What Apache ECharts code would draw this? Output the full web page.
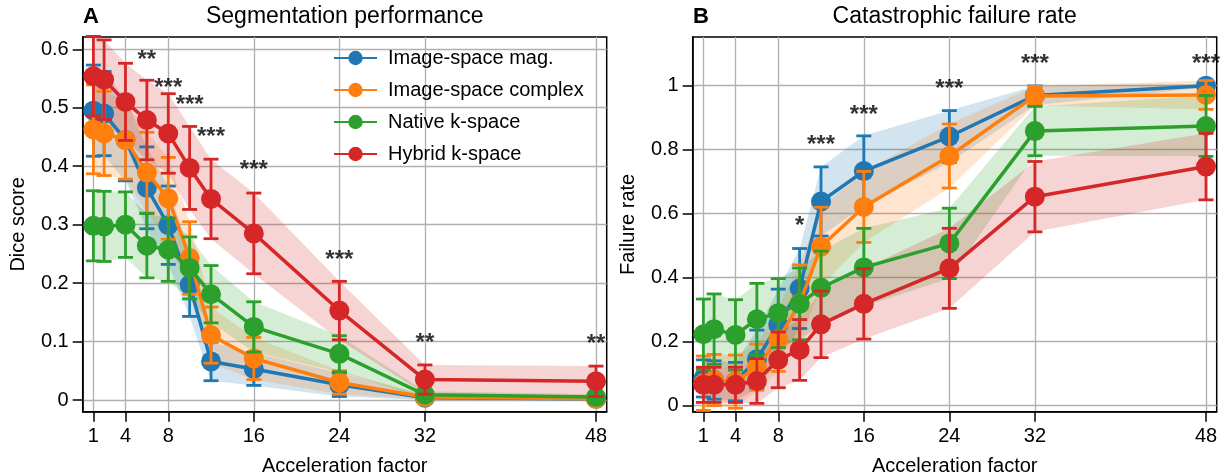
<!DOCTYPE html>
<html>
<head>
<meta charset="utf-8">
<title>Segmentation performance / Catastrophic failure rate</title>
<script src="https://cdn.jsdelivr.net/npm/echarts@6/dist/echarts.min.js"></script>
<style>
  html, body { margin: 0; padding: 0; background: #fff; }
  #chart { width: 1220px; height: 475px; }
</style>
</head>
<body>
<div id="chart"></div>
<script>
// x positions and tick marks
const accel = [1, 2, 4, 6, 8, 10, 12, 16, 24, 32, 48];
const xTicks = [1, 4, 8, 16, 24, 32, 48];
const diceTicks = [0, 0.1, 0.2, 0.3, 0.4, 0.5, 0.6];
const failTicks = [0, 0.2, 0.4, 0.6, 0.8, 1];

const methods = ["Image-space mag.", "Image-space complex", "Native k-space", "Hybrid k-space"];
const colors = ["#1f77b4", "#ff7f0e", "#2ca02c", "#d62728"];
const bandColors = ["rgba(31,119,180,0.2)", "rgba(255,127,14,0.2)", "rgba(44,160,44,0.2)", "rgba(214,39,40,0.2)"];

// A: dice score (mean, +/- error)
const diceMag = [0.495, 0.490, 0.445, 0.363, 0.299, 0.197, 0.066, 0.053, 0.026, 0.004, 0.002];
const diceMagErr = [0.078, 0.072, 0.07, 0.07, 0.067, 0.054, 0.033, 0.028, 0.02, 0.004, 0.003];
const diceCpx = [0.463, 0.456, 0.445, 0.389, 0.345, 0.243, 0.111, 0.071, 0.030, 0.005, 0.002];
const diceCpxErr = [0.076, 0.072, 0.067, 0.069, 0.07, 0.062, 0.048, 0.036, 0.02, 0.004, 0.003];
const diceNat = [0.298, 0.297, 0.300, 0.264, 0.257, 0.226, 0.181, 0.125, 0.079, 0.009, 0.005];
const diceNatErr = [0.06, 0.06, 0.056, 0.055, 0.054, 0.053, 0.049, 0.043, 0.031, 0.006, 0.005];
const diceHyb = [0.554, 0.548, 0.510, 0.479, 0.456, 0.397, 0.344, 0.285, 0.153, 0.035, 0.032];
const diceHybErr = [0.068, 0.068, 0.066, 0.068, 0.068, 0.071, 0.068, 0.069, 0.05, 0.025, 0.026];

// B: failure rate (mean, +/- error)
const failMag = [0.085, 0.08, 0.075, 0.145, 0.253, 0.366, 0.638, 0.733, 0.841, 0.969, 1.0];
const failMagErr = [0.058, 0.06, 0.06, 0.091, 0.111, 0.125, 0.108, 0.11, 0.081, 0.03, 0.006];
const failCpx = [0.07, 0.08, 0.075, 0.12, 0.207, 0.32, 0.497, 0.621, 0.780, 0.968, 0.971];
const failCpxErr = [0.085, 0.08, 0.083, 0.072, 0.1, 0.12, 0.123, 0.111, 0.1, 0.03, 0.045];
const failNat = [0.223, 0.239, 0.221, 0.270, 0.289, 0.318, 0.368, 0.432, 0.507, 0.858, 0.874];
const failNatErr = [0.11, 0.11, 0.11, 0.112, 0.108, 0.112, 0.115, 0.122, 0.11, 0.077, 0.095];
const failHyb = [0.065, 0.065, 0.065, 0.077, 0.143, 0.174, 0.254, 0.318, 0.429, 0.653, 0.747];
const failHybErr = [0.055, 0.055, 0.055, 0.07, 0.087, 0.095, 0.104, 0.11, 0.125, 0.11, 0.104];

// significance markers
const starsAX = [6, 8, 10, 12, 16, 24, 32, 48];
const starsAY = [0.590, 0.5415, 0.513, 0.457, 0.402, 0.248, 0.106, 0.104];
const starsAText = ["**", "***", "***", "***", "***", "***", "**", "**"];
const starsBX = [10, 12, 16, 24, 32, 48];
const starsBY = [0.575, 0.83, 0.924, 1.004, 1.082, 1.082];
const starsBText = ["*", "***", "***", "***", "***", "***"];

const FONT = "Liberation Sans";

const chart = echarts.init(document.getElementById("chart"));

function bandRender(fill) {
  return function (params, api) {
    if (params.dataIndexInside !== 0) return null;
    const n = params.dataInsideLength;
    const lower = [];
    const upper = [];
    for (let i = 0; i < n; i++) {
      const x = api.value(0, i);
      const m = api.value(1, i);
      const e = api.value(2, i);
      lower.push(api.coord([x, m - e]));
      upper.unshift(api.coord([x, m + e]));
    }
    return {
      type: "polygon",
      shape: { points: lower.concat(upper) },
      style: { fill: fill },
    };
  };
}

function errRender(color) {
  return function (params, api) {
    const x = api.value(0), m = api.value(1), e = api.value(2);
    const top = api.coord([x, m + e]);
    const bot = api.coord([x, m - e]);
    const w = 7.5;
    const style = { stroke: color, lineWidth: 2.8 };
    return {
      type: "group",
      children: [
        { type: "line", shape: { x1: top[0], y1: top[1], x2: bot[0], y2: bot[1] }, style: style },
        { type: "line", shape: { x1: top[0] - w, y1: top[1], x2: top[0] + w, y2: top[1] }, style: style },
        { type: "line", shape: { x1: bot[0] - w, y1: bot[1], x2: bot[0] + w, y2: bot[1] }, style: style },
      ],
    };
  };
}

function panelSeries(axisIdx, means, errs) {
  const out = [];
  means.forEach(function (vals, k) {
    const rows = accel.map(function (x, i) { return [x, vals[i], errs[k][i]]; });
    out.push({
      type: "custom",
      xAxisIndex: axisIdx, yAxisIndex: axisIdx,
      renderItem: bandRender(bandColors[k]),
      data: rows, z: 1, silent: true,
      encode: { x: 0, y: 1 },
    });
  });
  means.forEach(function (vals, k) {
    const rows = accel.map(function (x, i) { return [x, vals[i], errs[k][i]]; });
    out.push({
      type: "custom",
      xAxisIndex: axisIdx, yAxisIndex: axisIdx,
      renderItem: errRender(colors[k]),
      data: rows, z: 2 + k * 2, silent: true,
      encode: { x: 0, y: 1 },
    });
    out.push({
      name: methods[k],
      type: "line",
      xAxisIndex: axisIdx, yAxisIndex: axisIdx,
      data: accel.map(function (x, i) { return [x, vals[i]]; }),
      symbol: "circle", symbolSize: 20, showSymbol: true,
      lineStyle: { width: 3.5, color: colors[k] },
      itemStyle: { color: colors[k] },
      emphasis: { disabled: true },
      z: 3 + k * 2, silent: true,
    });
  });
  return out;
}

function starSeries(axisIdx, xs, ys, txt) {
  return {
    type: "scatter",
    xAxisIndex: axisIdx, yAxisIndex: axisIdx,
    symbolSize: 1,
    itemStyle: { color: "rgba(0,0,0,0)" },
    data: xs.map(function (x, i) { return [x, ys[i], txt[i]]; }),
    label: {
      show: true, position: "inside", offset: [0, 5],
      formatter: function (p) { return p.data[2]; },
      color: "#000", fontSize: 24, fontWeight: "bold", fontFamily: FONT,
      textBorderWidth: 0,
    },
    z: 20, silent: true, clip: false,
  };
}

function xAxis(idx) {
  return {
    type: "value", gridIndex: idx, min: 0, max: 49,
    name: "Acceleration factor", nameLocation: "middle", nameGap: 45,
    nameTextStyle: { fontSize: 20, fontFamily: FONT, color: "#000" },
    axisLine: { onZero: false, lineStyle: { color: "#000", width: 1.5 } },
    axisTick: { length: 10, lineStyle: { color: "#000", width: 1.5 }, customValues: xTicks },
    axisLabel: { customValues: xTicks, margin: 15, fontSize: 20, fontFamily: FONT, color: "#000" },
    splitLine: { show: true, lineStyle: { color: "#b0b0b0", width: 1.3 } },
  };
}

function yAxis(idx, name, min, max, ticks) {
  return {
    type: "value", gridIndex: idx, min: min, max: max,
    name: name, nameLocation: "middle", nameGap: 54,
    nameTextStyle: { fontSize: 20, fontFamily: FONT, color: "#000" },
    axisLine: { show: true, onZero: false, lineStyle: { color: "#000", width: 1.5 } },
    axisTick: { show: true, length: 10, lineStyle: { color: "#000", width: 1.5 }, customValues: ticks },
    axisLabel: { customValues: ticks, margin: 14, fontSize: 20, fontFamily: FONT, color: "#000" },
    splitLine: { show: true, lineStyle: { color: "#b0b0b0", width: 1.3 } },
  };
}

const option = {
  animation: false,
  backgroundColor: "#fff",
  textStyle: { fontFamily: FONT },
  grid: [
    { left: 82.7, top: 37, width: 524, height: 374.7, show: true, borderColor: "#000", borderWidth: 1.5, outerBoundsMode: "none", containLabel: false },
    { left: 692.7, top: 37, width: 524, height: 374.7, show: true, borderColor: "#000", borderWidth: 1.5, outerBoundsMode: "none", containLabel: false },
  ],
  xAxis: [xAxis(0), xAxis(1)],
  yAxis: [
    yAxis(0, "Dice score", -0.02, 0.621, diceTicks),
    yAxis(1, "Failure rate", -0.019, 1.152, failTicks),
  ],
  legend: {
    data: methods,
    orient: "vertical",
    left: 333, top: 48,
    padding: 0,
    itemWidth: 43, itemHeight: 18, itemGap: 12,
    selectedMode: false,
    textStyle: { fontSize: 20, fontFamily: FONT, color: "#000", padding: [0, 0, 0, 6] },
  },
  graphic: [
    { type: "text", x: 83, y: 17, style: { text: "A", font: "bold 22px " + FONT, fill: "#000", verticalAlign: "middle" } },
    { type: "text", x: 693, y: 17, style: { text: "B", font: "bold 22px " + FONT, fill: "#000", verticalAlign: "middle" } },
    { type: "text", x: 344.7, y: 17, style: { text: "Segmentation performance", font: "23px " + FONT, fill: "#000", align: "center", verticalAlign: "middle" } },
    { type: "text", x: 954.7, y: 17, style: { text: "Catastrophic failure rate", font: "23px " + FONT, fill: "#000", align: "center", verticalAlign: "middle" } },
  ],
  series: []
    .concat(panelSeries(0, [diceMag, diceCpx, diceNat, diceHyb], [diceMagErr, diceCpxErr, diceNatErr, diceHybErr]))
    .concat(panelSeries(1, [failMag, failCpx, failNat, failHyb], [failMagErr, failCpxErr, failNatErr, failHybErr]))
    .concat([starSeries(0, starsAX, starsAY, starsAText), starSeries(1, starsBX, starsBY, starsBText)]),
};

option && chart.setOption(option);
</script>
</body>
</html>
